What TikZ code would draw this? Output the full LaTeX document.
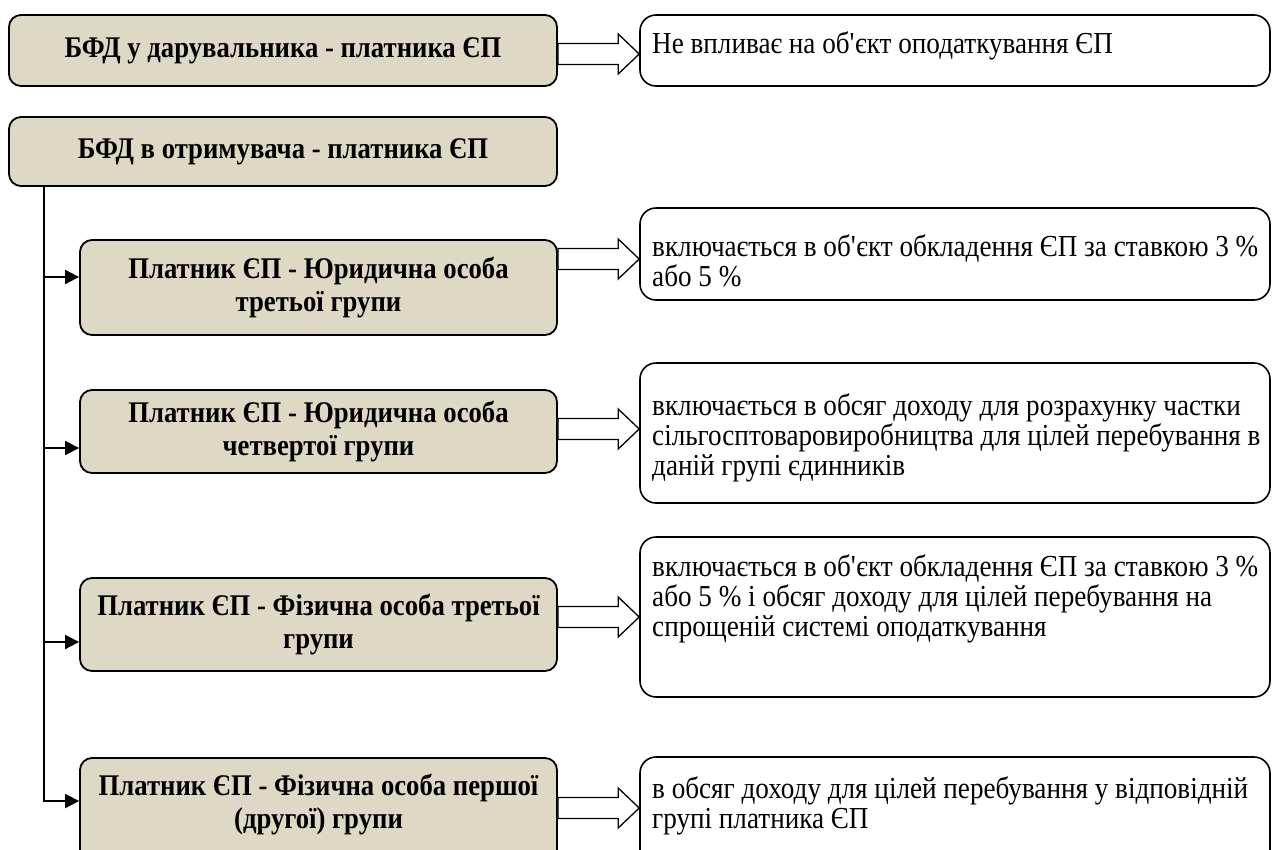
\documentclass[tikz,border=0pt]{standalone}
\usepackage{fontspec}
\setmainfont{Liberation Serif}[FakeStretch=0.89]
\usetikzlibrary{arrows.meta,calc}
\definecolor{tanfill}{HTML}{DDD9C4}
\newcommand\apos{\XeTeXglyph\XeTeXcharglyph"27\relax}
\tikzset{
  lbox/.style={draw=black, line width=1.8pt, fill=tanfill, rounded corners=12pt,
    align=center, font=\fontsize{30}{33}\selectfont\bfseries, inner sep=0pt},
  ltext/.style={align=center, font=\fontsize{30}{33}\selectfont\bfseries, inner sep=0pt},
  rbox/.style={draw=black, line width=1.6pt, fill=white, rounded corners=16pt, inner sep=0pt},
  rtext/.style={anchor=base west, align=left, font=\fontsize{30.5}{30}\selectfont, inner sep=0pt},
  conn/.style={line width=1.8pt, -{Triangle[length=14pt,width=14pt]}},
  trunk/.style={line width=1.8pt},
  barrow/.style={draw=black, line width=1.3pt, fill=white, line join=miter},
}
\newcommand\barr[3]{%
  \path (#1.east |- 0,#3) coordinate (s) (#2.west |- 0,#3) coordinate (e);
  \draw[barrow] ($(s)+(0,-10.5)$) -- ($(e)+(-21,-10.5)$) -- ($(e)+(-21,-20)$) -- (e)
    -- ($(e)+(-21,20)$) -- ($(e)+(-21,10.5)$) -- ($(s)+(0,10.5)$) -- cycle;}
\begin{document}
\begin{tikzpicture}[x=1pt,y=-1pt]
\useasboundingbox[fill=white] (0,0) rectangle (1272,849);
% left boxes
\node[lbox, minimum width=548pt, minimum height=71pt] (A) at (283,50.5) {БФД у дарувальника - платника ЄП};
\node[lbox, minimum width=548pt, minimum height=69pt] (C) at (283,151.5) {БФД в отримувача - платника ЄП};
\node[lbox, minimum width=477pt, minimum height=95pt] (D1) at (318.5,287.5) {Платник ЄП - Юридична особа\\третьої групи};
\node[lbox, minimum width=477pt, minimum height=83pt] (D2) at (318.5,431.5) {Платник ЄП - Юридична особа\\четвертої групи};
\node[lbox, minimum width=477pt, minimum height=93pt] (D3) at (318.5,624.5) {Платник ЄП - Фізична особа третьої\\групи};
\node[lbox, minimum width=477pt, minimum height=124pt] (D4) at (318.5,820) {};
\node[ltext] (D4t) at (318.5,804) {Платник ЄП - Фізична особа першої\\(другої) групи};
% right boxes
\node[rbox, minimum width=630pt, minimum height=71pt] (R0) at (955,50.5) {};
\node[rbox, minimum width=630pt, minimum height=92pt] (R1) at (955,254) {};
\node[rbox, minimum width=630pt, minimum height=140pt] (R2) at (955,433) {};
\node[rbox, minimum width=630pt, minimum height=160pt] (R3) at (955,617) {};
\node[rbox, minimum width=630pt, minimum height=124pt] (R4) at (955,819) {};
\node[rtext] (R0t) at (652,53) {Не впливає на об\apos єкт оподаткування ЄП};
\node[rtext] (R1t) at (652,286) {включається в об\apos єкт обкладення ЄП за ставкою 3 \%\\або 5 \%};
\node[rtext] (R2t) at (652,475) {включається в обсяг доходу для розрахунку частки\\сільгосптоваровиробництва для цілей перебування в\\даній групі єдинників};
\node[rtext] (R3t) at (652,636) {включається в об\apos єкт обкладення ЄП за ставкою 3 \%\\або 5 \% і обсяг доходу для цілей перебування на\\спрощеній системі оподаткування};
\node[rtext] (R4t) at (652,828) {в обсяг доходу для цілей перебування у відповідній\\групі платника ЄП};
% block arrows
\barr{A}{R0}{54}
\barr{D1}{R1}{259}
\barr{D2}{R2}{429}
\barr{D3}{R3}{617}
\barr{D4}{R4}{808}
% tree connectors
\coordinate (t0) at (C.south -| 44,0);
\coordinate (t1) at (44,277);
\coordinate (t2) at (44,448);
\coordinate (t3) at (44,642);
\draw[trunk] (t0) -- (t3);
\draw[conn] (t0) |- (D4.west |- 0,801);
\draw[conn] (t1) -- (D1.west |- t1);
\draw[conn] (t2) -- (D2.west |- t2);
\draw[conn] (t3) -- (D3.west |- t3);
\end{tikzpicture}
\end{document}
